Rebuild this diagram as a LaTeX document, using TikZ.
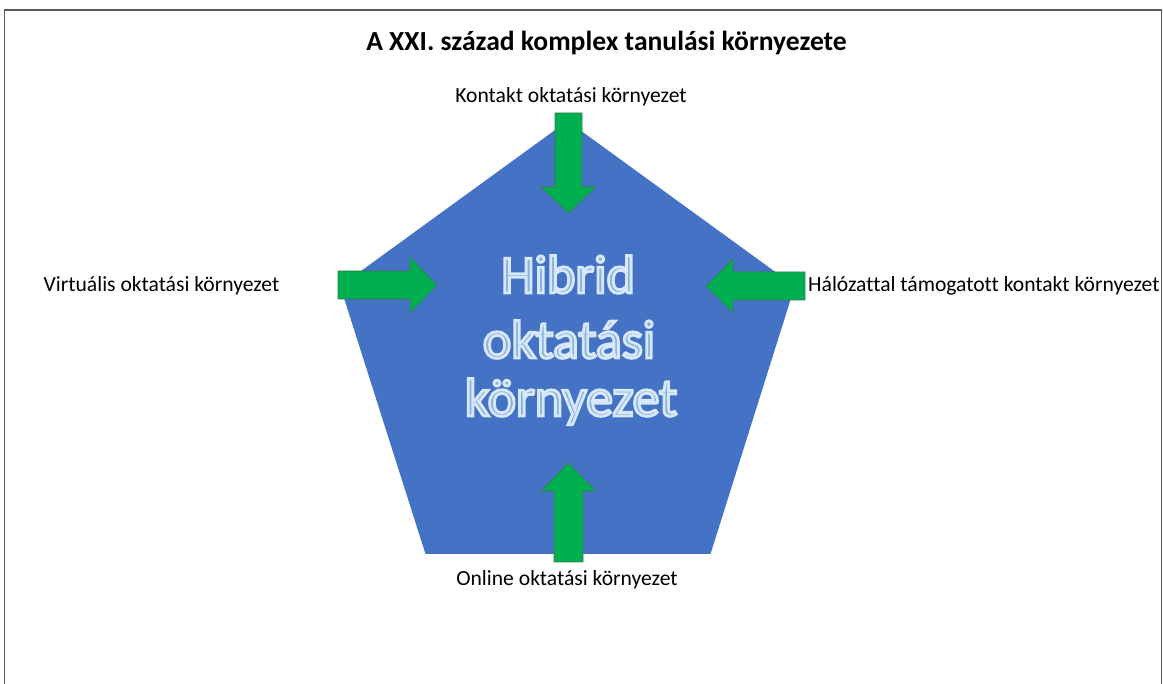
\documentclass[tikz,border=0pt]{standalone}
\usepackage{fontspec}
\setmainfont{Carlito}[Ligatures=NoCommon]
\usetikzlibrary{calc}
\definecolor{penta}{HTML}{4472C4}
\definecolor{arrowfill}{HTML}{00B050}
\definecolor{arrowline}{HTML}{3A7A5A}
\definecolor{framec}{HTML}{5A5A5A}
\definecolor{hibfill}{HTML}{88B0E0}
\newcommand{\outlined}[1]{\special{pdf:literal direct q 2 Tr 2.8 w 0.84 0.91 0.98 RG}#1\special{pdf:literal direct Q}}
\begin{document}
\begin{tikzpicture}[x=1pt,y=-1pt,
  blockarrow/.style={fill=arrowfill,draw=arrowline,line width=0.6pt,line join=miter},
  lbl/.style={font=\fontsize{21.6}{24}\selectfont,inner sep=0pt,anchor=base},
  hibtxt/.style={font=\fontsize{54}{60}\selectfont,inner sep=0pt,anchor=base,text=hibfill}]
\useasboundingbox (0,0) rectangle (1163,684);
\fill[white] (0,0) rectangle (1163,684);
\draw[framec,line width=1.6pt] (4.5,684) -- (4.5,10) -- (1161.5,10) -- (1161.5,684);
% pentagon
\coordinate (pA) at (567.5,121);
\coordinate (pB) at (794.8,286.1);
\coordinate (pC) at (710.5,554);
\coordinate (pD) at (425.5,554);
\coordinate (pE) at (340.2,286.1);
\fill[penta] (pA) -- (pB) -- (pC) -- (pD) -- (pE) -- cycle;
% arrows
\draw[blockarrow] (555,113) -- (582,113) -- (582,187) -- (596,187) -- (568.5,213) -- (541,187) -- (555,187) -- cycle;
\draw[blockarrow] (554,562) -- (583,562) -- (583,491) -- (596,491) -- (568.5,463) -- (541,491) -- (554,491) -- cycle;
\draw[blockarrow] (338,271) -- (410,271) -- (410,257) -- (437,285) -- (410,313) -- (410,299) -- (338,299) -- cycle;
\draw[blockarrow] (805,272) -- (733,272) -- (733,259) -- (706,286) -- (733,313) -- (733,300) -- (805,300) -- cycle;
% title
\node[inner sep=0pt,anchor=base,font=\fontsize{27.6}{30}\selectfont\bfseries] (title) at (606.5,51) {A XXI. század komplex tanulási környezete};
% labels
\node[lbl] (kontakt) at (571,103) {Kontakt oktatási környezet};
\node[lbl] (online) at (567,586) {Online oktatási környezet};
\node[lbl] (virt) at (161.5,292) {Virtuális oktatási környezet};
\node[lbl,anchor=base west] (halo) at (808,292) {Hálózattal támogatott kontakt környezet};
% hibrid text with outline
\node[hibtxt] (h1) at (568,293) {\outlined{Hibrid}};
\node[hibtxt] (h2) at (569,358) {\outlined{oktatási}};
\node[hibtxt] (h3) at (571,416) {\outlined{környezet}};
\end{tikzpicture}
\end{document}
